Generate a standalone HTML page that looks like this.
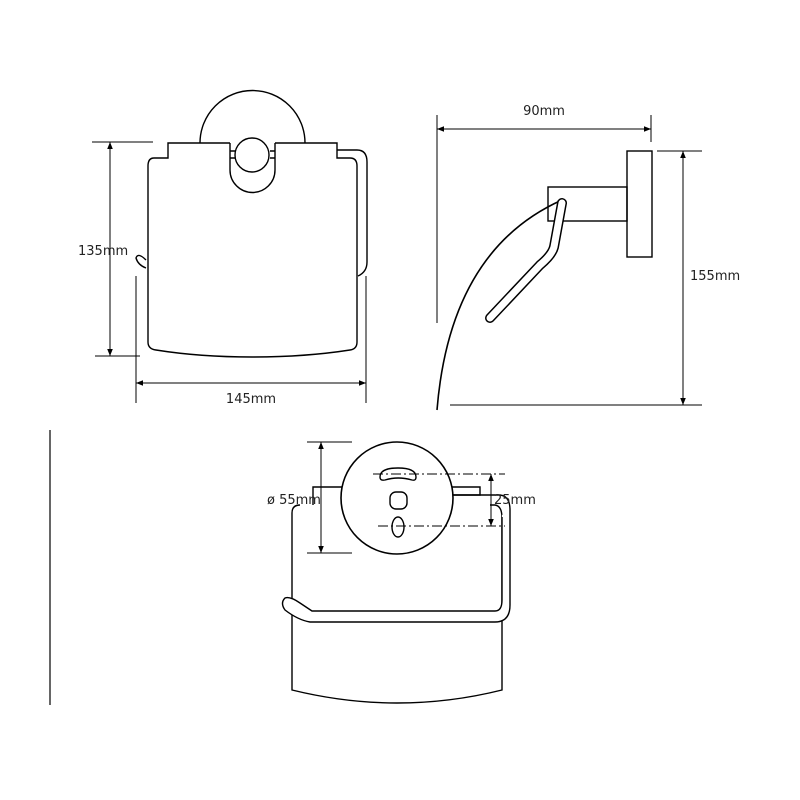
<!DOCTYPE html>
<html><head><meta charset="utf-8"><style>
html,body{margin:0;padding:0;background:#fff;}
svg{display:block;}
text{font-family:"DejaVu Sans","Liberation Sans",sans-serif;font-size:13px;fill:#222;}
</style></head><body>
<svg width="800" height="800" viewBox="0 0 800 800" xmlns="http://www.w3.org/2000/svg">
<defs>
<marker id="a" viewBox="0 0 10 10" refX="10" refY="5" markerWidth="7" markerHeight="7" orient="auto-start-reverse"><path d="M0,1 L10,5 L0,9 z" fill="#000"/></marker>
</defs>
<g fill="none" stroke="#000" stroke-width="1.4">
<!-- VIEW 1 -->
<path d="M200,143 A52,52 0 0 1 305,143"/>
<path d="M230,143 L168,143 L168,158 L154,158 Q148,158 148,166 L148,342 Q148,349 156,350 Q200,357 252,357 Q305,357 350,350 Q357,349 357,342 L357,166 Q357,158 350,158 L337,158 L337,143 L275,143"/>
<path d="M230,143 L230,170 A22.5,22.5 0 0 0 275,170 L275,143"/>
<circle cx="252" cy="155" r="17"/>
<path d="M230,151 L235,151 M230,158 L235,158 M270,151 L275,151 M270,158 L275,158"/>
<path d="M337,150 L357,150 Q367,150 367,162 L367,262 Q367,272 358,276"/>
<path d="M146,260 Q138,252 136,258 Q138,265 146,268"/>
<line x1="110" y1="142" x2="110" y2="356" marker-start="url(#a)" marker-end="url(#a)" stroke-width="1"/>
<line x1="92" y1="142" x2="153" y2="142" stroke-width="1"/>
<line x1="95" y1="356" x2="140" y2="356" stroke-width="1"/>
<line x1="136" y1="276" x2="136" y2="403" stroke-width="1"/>
<line x1="366" y1="276" x2="366" y2="403" stroke-width="1"/>
<line x1="136" y1="383" x2="366" y2="383" marker-start="url(#a)" marker-end="url(#a)" stroke-width="1"/>
<!-- VIEW 2 -->
<line x1="437" y1="115" x2="437" y2="323" stroke-width="1"/>
<line x1="437" y1="129" x2="651" y2="129" marker-start="url(#a)" marker-end="url(#a)" stroke-width="1"/>
<line x1="651" y1="115" x2="651" y2="142" stroke-width="1"/>
<rect x="627" y="151" width="25" height="106"/>
<rect x="548" y="187" width="79" height="34"/>
<path d="M437,410 Q450,250 562,200" stroke-width="1.6"/>
<path d="M562,203 L554,247 Q552,255 540,265 L490,318" stroke="#000" stroke-width="10" stroke-linecap="round" stroke-linejoin="round"/>
<path d="M562,203 L554,247 Q552,255 540,265 L490,318" stroke="#fff" stroke-width="7" stroke-linecap="round" stroke-linejoin="round"/>
<line x1="683" y1="151" x2="683" y2="405" marker-start="url(#a)" marker-end="url(#a)" stroke-width="1"/>
<line x1="657" y1="151" x2="702" y2="151" stroke-width="1"/>
<line x1="450" y1="405" x2="702" y2="405" stroke-width="1"/>
<!-- VIEW 3 -->
<line x1="50" y1="430" x2="50" y2="705" stroke-width="1.2"/>
<path d="M313,505 L313,487 L342,487"/>
<path d="M300,505 Q292,505 292,513 L292,690 Q345,703 397,703 Q450,703 502,690 L502,518 Q502,506 495,505 L490,505"/>
<path d="M452,487 L480,487 L480,495 L452,495"/>
<path d="M452,495 L500,495 Q510,496 510,510"/>
<path d="M510,510 L510,605 Q510,622 495,622 L310,622 Q298,620 285,610 Q280,603 285,598 Q290,596 300,603 L312,611 L495,611 Q502,611 502,600 L502,515 Z" fill="#fff" stroke="none"/>
<path d="M510,510 L510,605 Q510,622 495,622 L310,622 Q298,620 285,610 Q280,603 285,598 Q290,596 300,603 L312,611 L495,611 Q502,611 502,600 L502,517"/>
<circle cx="397" cy="498" r="56" fill="#fff" stroke-width="1.6"/>
<path d="M380,477 Q380,468 398,468 Q416,468 416,477 Q416,481 412,480 Q398,476 385,480 Q380,481 380,477 z"/>
<rect x="390" y="492" width="17" height="17" rx="6"/>
<ellipse cx="398" cy="527" rx="6" ry="10"/>
<line x1="373" y1="474" x2="505" y2="474" stroke-width="0.9" stroke-dasharray="10,3,2,3"/>
<line x1="378" y1="526" x2="505" y2="526" stroke-width="0.9" stroke-dasharray="10,3,2,3"/>
<line x1="491" y1="474" x2="491" y2="526" marker-start="url(#a)" marker-end="url(#a)" stroke-width="1"/>
<line x1="321" y1="442" x2="321" y2="553" marker-start="url(#a)" marker-end="url(#a)" stroke-width="1"/>
<line x1="307" y1="442" x2="352" y2="442" stroke-width="1"/>
<line x1="307" y1="553" x2="352" y2="553" stroke-width="1"/>
</g>
<text x="78" y="255">135mm</text>
<text x="251" y="403" text-anchor="middle">145mm</text>
<text x="544" y="115" text-anchor="middle">90mm</text>
<text x="690" y="280">155mm</text>
<text x="267" y="504" font-size="12">ø 55mm</text>
<text x="494" y="504" font-size="12">25mm</text>
</svg>
</body></html>
